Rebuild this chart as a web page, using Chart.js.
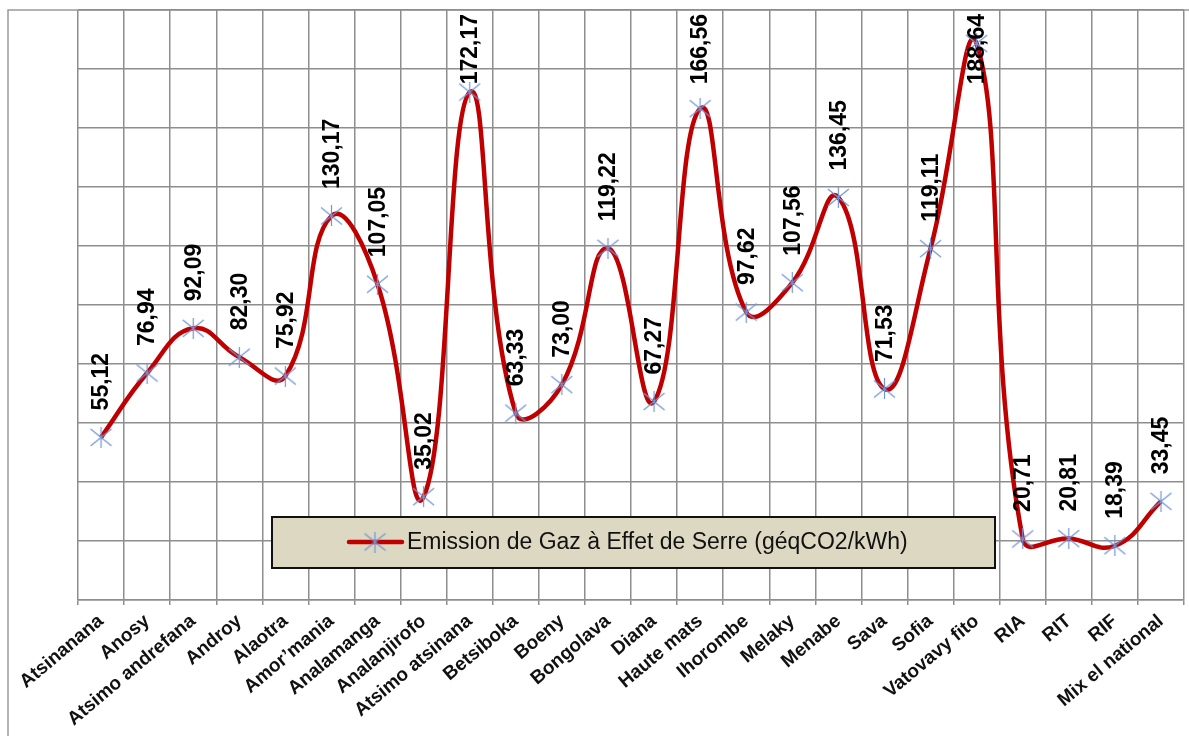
<!DOCTYPE html>
<html>
<head>
<meta charset="utf-8">
<script src="https://cdn.jsdelivr.net/npm/chart.js@4/dist/chart.umd.min.js"></script>
<style>
  html, body { margin: 0; padding: 0; background: #fff; }
  #wrap { width: 1189px; height: 736px; }
</style>
</head>
<body>
<div id="wrap"><canvas id="ges"></canvas></div>
<script>
const regions = ['Atsinanana', 'Anosy', 'Atsimo andrefana', 'Androy', 'Alaotra', 'Amor\u2019mania',
  'Analamanga', 'Analanjirofo', 'Atsimo atsinana', 'Betsiboka', 'Boeny', 'Bongolava', 'Diana',
  'Haute mats', 'Ihorombe', 'Melaky', 'Menabe', 'Sava', 'Sofia', 'Vatovavy fito', 'RIA', 'RIT',
  'RIF', 'Mix el national']
const emission = [55.12, 76.94, 92.09, 82.30, 75.92, 130.17, 107.05, 35.02, 172.17, 63.33, 73.00,
  119.22, 67.27, 166.56, 97.62, 107.56, 136.45, 71.53, 119.11, 188.64, 20.71, 20.81, 18.39, 33.45]
const serieLabel = 'Emission de Gaz \u00e0 Effet de Serre (g\u00e9qCO2/kWh)'

const FONT = "'Liberation Sans', Arial, sans-serif"

// marker "*" like excel : X + vertical bar
function makeStar() {
  let c = document.createElement('canvas')
  c.width = 23
  c.height = 21
  let g = c.getContext('2d')
  g.strokeStyle = '#7096d6'
  g.lineWidth = 1.2
  g.beginPath()
  g.moveTo(1, 2); g.lineTo(22, 19)
  g.moveTo(22, 2); g.lineTo(1, 19)
  g.moveTo(11.5, 0); g.lineTo(11.5, 21)
  g.stroke()
  return c
}
const star = makeStar()

const fmt = v => v.toFixed(2).replace('.', ',')

const frame = {
  id: 'frame',
  beforeDraw(chart) {
    let ctx = chart.ctx
    ctx.save()
    ctx.fillStyle = '#fff'
    ctx.fillRect(0, 0, chart.width, chart.height)
    ctx.strokeStyle = '#9a9a9a'
    ctx.lineWidth = 1.5
    ctx.beginPath()
    ctx.moveTo(8, chart.height + 5)
    ctx.lineTo(8, 10)
    ctx.lineTo(chart.width + 5, 10)
    ctx.stroke()
    ctx.restore()
  }
}

const valueLabels = {
  id: 'valueLabels',
  afterDatasetsDraw(chart) {
    let ctx = chart.ctx
    let meta = chart.getDatasetMeta(0)
    ctx.save()
    ctx.font = 'bold 23px ' + FONT
    ctx.fillStyle = '#000'
    ctx.textAlign = 'left'
    ctx.textBaseline = 'middle'
    meta.data.forEach((pt, i) => {
      let txt = fmt(emission[i])
      let w = ctx.measureText(txt).width
      let bottom = pt.y - 27
      if (bottom - w < 14) bottom = 14 + w
      ctx.save()
      ctx.translate(pt.x + 1, bottom)
      ctx.rotate(-Math.PI / 2)
      ctx.fillText(txt, 0, 0)
      ctx.restore()
    })
    ctx.restore()
  }
}

const legendBox = {
  id: 'legendBox',
  afterDraw(chart) {
    let ctx = chart.ctx
    ctx.save()
    ctx.fillStyle = '#dcd8c2'
    ctx.fillRect(272, 517, 723, 51)
    ctx.strokeStyle = '#111'
    ctx.lineWidth = 2
    ctx.strokeRect(272, 517, 723, 51)
    ctx.strokeStyle = '#c00000'
    ctx.lineWidth = 4.5
    ctx.lineCap = 'round'
    ctx.beginPath()
    ctx.moveTo(349, 542)
    ctx.lineTo(402, 542)
    ctx.stroke()
    ctx.drawImage(star, 375 - star.width / 2, 542 - star.height / 2)
    ctx.fillStyle = '#111'
    ctx.font = '23px ' + FONT
    ctx.textAlign = 'left'
    ctx.textBaseline = 'middle'
    ctx.fillText(serieLabel, 407, 543)
    ctx.restore()
  }
}

const ctx = document.getElementById('ges').getContext('2d')
const chart = new Chart(ctx, {
  type: 'line',
  data: {
    labels: regions,
    datasets: [{
      label: serieLabel,
      data: emission,
      borderColor: '#c00000',
      borderWidth: 4.5,
      tension: 0.45,
      fill: false,
      pointStyle: star,
      pointRadius: 10,
      pointHoverRadius: 10
    }]
  },
  options: {
    responsive: true,
    maintainAspectRatio: false,
    animation: false,
    devicePixelRatio: 1,
    layout: { autoPadding: false, padding: { left: 8, top: 10, right: 5, bottom: 0 } },
    plugins: {
      legend: { display: false },
      tooltip: { enabled: false }
    },
    scales: {
      x: {
        offset: true,
        grid: { offset: true, color: '#8e8e8e', lineWidth: 1.5, tickLength: 5 },
        border: { color: '#8e8e8e', width: 1.5 },
        ticks: {
          autoSkip: false,
          minRotation: 40,
          maxRotation: 40,
          color: '#111',
          padding: 5,
          font: { family: FONT, size: 19, weight: 'bold' }
        },
        afterFit(scale) {
          scale.height = 136
          scale.paddingLeft = 0
          scale.paddingRight = 0
        }
      },
      y: {
        min: 0,
        max: 200,
        ticks: { display: false, stepSize: 20 },
        grid: { color: '#8e8e8e', lineWidth: 1.5, drawTicks: false },
        border: { display: false },
        afterFit(scale) {
          scale.width = 70
          scale.paddingTop = 0
          scale.paddingBottom = 0
        }
      }
    }
  },
  plugins: [frame, valueLabels, legendBox]
})
</script>
</body>
</html>
